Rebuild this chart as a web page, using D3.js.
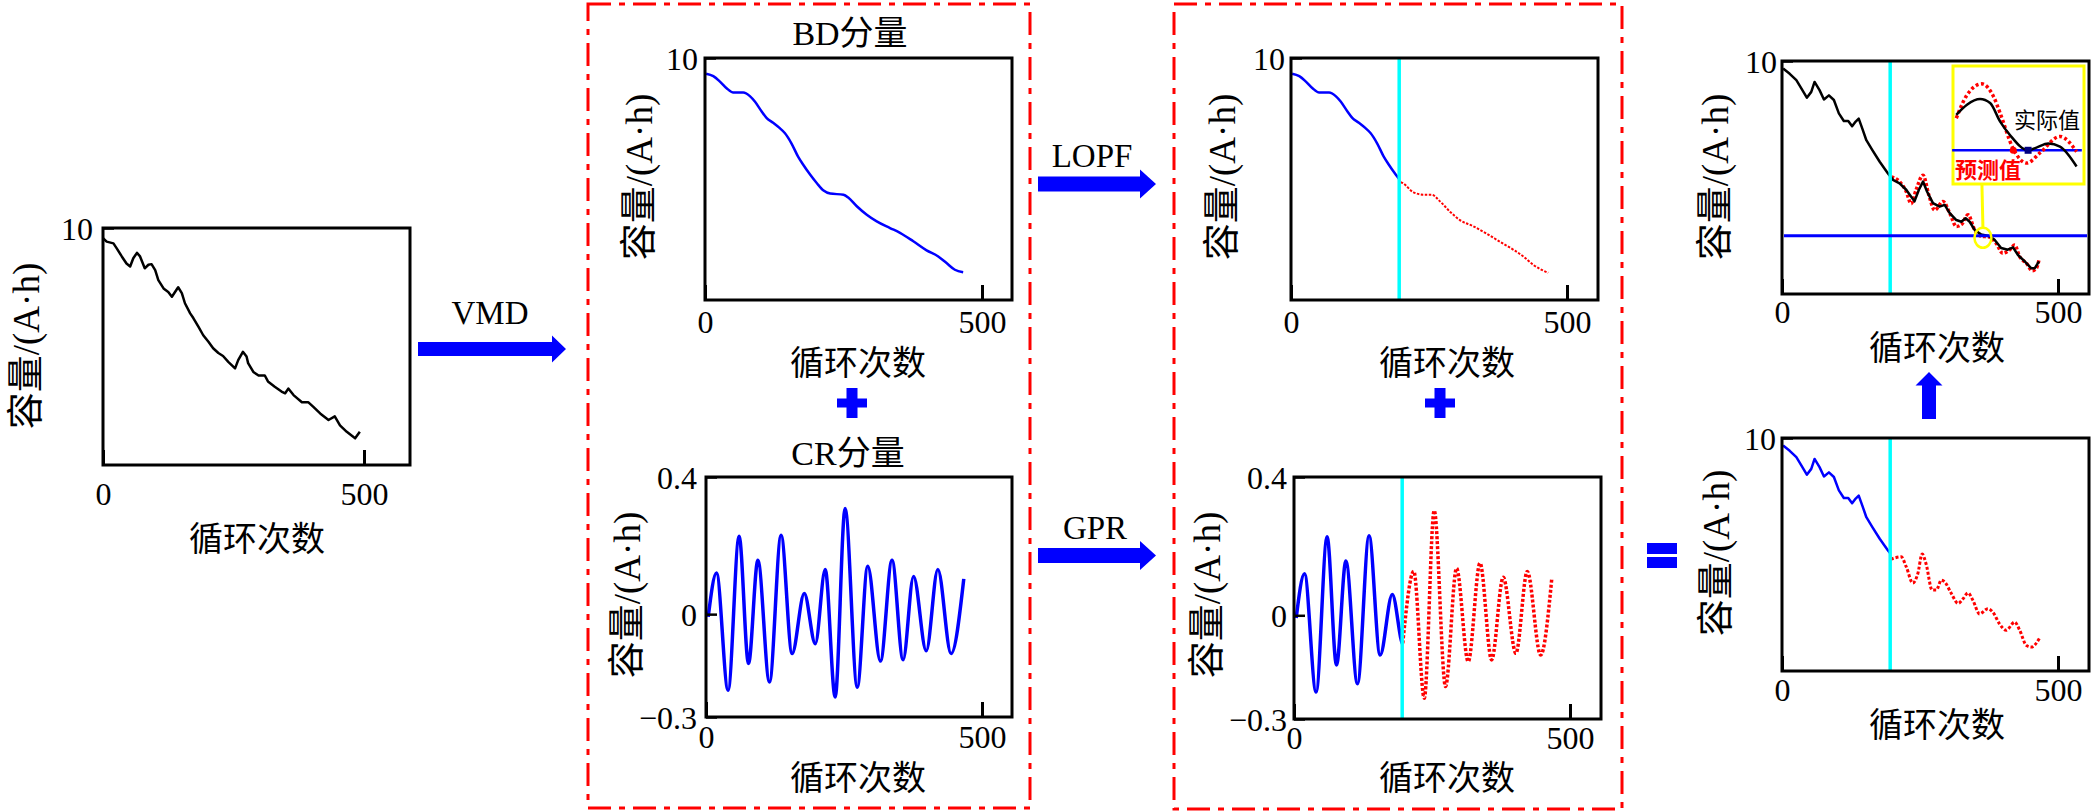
<!DOCTYPE html>
<html>
<head>
<meta charset="utf-8">
<script src="https://cdn.jsdelivr.net/npm/d3@7"></script>
<style>
body { margin: 0; background: #fff; }
</style>
</head>
<body>
<svg id="fig" width="2094" height="812"></svg>
<script>
// ---- data (cycle, capacity A·h) ----
var xTicks = [0, 500];
var splitCycle = 196;      // end of training data (cyan line)
var failThreshold = 7.0;   // blue horizontal line
var zoomCycle = 364;       // where the yellow circle sits

// original capacity curve (left panel)
var rawCapacity = [[0,9.83],[7,9.77],[20,9.74],[26,9.66],[36,9.52],[45,9.40],[52,9.35],[58,9.49],[65,9.58],[71,9.52],
  [80,9.32],[87,9.38],[93,9.39],[100,9.29],[106,9.12],[116,8.98],[125,8.92],[132,8.84],[138,8.92],[144,9.00],
  [151,8.90],[157,8.73],[167,8.56],[173,8.48],[183,8.33],[192,8.19],[202,8.08],[211,7.97],[221,7.89],[230,7.84],
  [240,7.74],[253,7.63],[259,7.77],[268,7.91],[275,7.83],[278,7.72],[288,7.57],[298,7.51],[310,7.51],[316,7.41],
  [329,7.32],[342,7.24],[349,7.21],[355,7.29],[365,7.18],[381,7.06],[393,7.06],[403,6.98],[416,6.87],[432,6.76],
  [444,6.82],[454,6.67],[467,6.56],[483,6.45],[492,6.56]];

// BD (trend) component
var bdTrend = [[2,9.74],[15,9.70],[27,9.61],[39,9.50],[51,9.43],[69,9.43],[81,9.37],[90,9.28],[102,9.12],[111,9.01],
  [123,8.93],[135,8.84],[144,8.76],[156,8.59],[168,8.37],[177,8.24],[190,8.07],[202,7.93],[214,7.81],[226,7.76],
  [250,7.74],[259,7.69],[274,7.55],[292,7.41],[310,7.30],[334,7.19],[352,7.11],[376,6.97],[400,6.82],[421,6.72],
  [436,6.61],[451,6.50],[466,6.46]];

// CR (fluctuation) component, peaks and troughs
var crComponent = [[4,-0.008],[19,0.12],[40,-0.222],[60,0.227],[77,-0.144],[94,0.157],[115,-0.198],[136,0.23],
  [156,-0.115],[178,0.06],[198,-0.086],[216,0.13],[234,-0.242],[252,0.308],[274,-0.213],[293,0.14],[316,-0.137],
  [337,0.157],[357,-0.133],[376,0.11],[399,-0.107],[420,0.13],[444,-0.115],[467,0.103]];

// LOPF prediction of the trend
var lopfPred = [[199,7.95],[203,7.93],[222,7.78],[240,7.74],[255,7.74],[270,7.63],[288,7.46],[306,7.32],[330,7.22],
  [354,7.10],[379,6.96],[403,6.83],[421,6.72],[439,6.58],[466,6.45]];

// GPR prediction of the fluctuation
var gprPred = [[197,-0.081],[217,0.127],[236,-0.24],[254,0.303],[274.5,-0.206],[294.5,0.136],[315.6,-0.134],
  [337,0.151],[358,-0.129],[379,0.11],[402,-0.11],[422.6,0.127],[446.8,-0.115],[466.8,0.103]];

// final result: actual capacity
var finalActual = [[2,9.87],[14,9.78],[26,9.67],[35,9.53],[45,9.37],[53,9.47],[59,9.64],[68,9.50],[76,9.34],[85,9.41],
  [94,9.33],[103,9.10],[112,8.97],[120,8.97],[127,8.88],[133.5,8.96],[139,9.01],[145.5,8.84],[152.8,8.64],[163.7,8.47],
  [177,8.27],[192,8.07],[201,7.96],[213,7.90],[225,7.79],[240,7.59],[248,7.79],[255.5,7.93],[262.7,7.76],[273.5,7.56],
  [285.6,7.50],[294.7,7.53],[303.8,7.39],[315.8,7.27],[324.9,7.24],[332.7,7.30],[340,7.24],[349,7.10],[361,7.02],
  [376,6.99],[385,6.93],[397,6.79],[409,6.76],[418.5,6.80],[427.5,6.67],[439.7,6.56],[451.7,6.44],[457.7,6.44],[465.6,6.56]];

// final result: predicted capacity (top panel)
var finalPred = [[198,8.01],[213,7.93],[225,7.76],[234,7.55],[243,7.79],[255.5,8.04],[266,7.70],[276.6,7.44],
  [291.7,7.59],[303.8,7.39],[315.8,7.16],[324.9,7.19],[337,7.36],[349,7.10],[361,6.99],[376,6.98],[388,6.87],
  [400,6.70],[412.5,6.76],[421.5,6.84],[430.6,6.64],[442.6,6.53],[453.5,6.40],[460.8,6.44],[465.6,6.59]];

// LOPF + GPR sum (bottom right panel)
var sumPred = [[197,7.92],[216,7.96],[225,7.79],[237,7.51],[246,7.67],[254,8.01],[261,7.84],[272,7.39],[279.6,7.39],
  [288.6,7.56],[294.7,7.53],[306.8,7.33],[319,7.16],[328,7.24],[337,7.34],[346,7.21],[358,6.98],[373,7.07],[382,7.01],
  [394,6.81],[406,6.70],[421.5,6.84],[430.6,6.70],[442.6,6.44],[451.7,6.41],[466.8,6.57]];

// zoomed inset near the failure threshold
var insetActual = [[365.75,7.105],[368.2,7.135],[371.2,7.152],[373.5,7.14],[375.8,7.085],[378,7.046],[382.2,7.0],
  [384.1,7.008],[386.8,7.02],[389.5,7.011],[393.3,6.952]];
var insetPred = [[365.75,7.095],[368.2,7.164],[371.6,7.197],[374.3,7.159],[375.8,7.11],[378.8,7.004],[381.9,6.962],
  [384.9,6.992],[389.5,7.041],[393.3,6.996]];
var crossPred = [378.8, 7.0];
var crossActual = [382.2, 7.0];

// ---- layout ----
var FONT = '"Liberation Serif","Times New Roman","Noto Sans CJK SC",serif';
var BLUE = "#0000ff", RED = "#ff0000", CYAN = "#00ffff", YELLOW = "#ffff00";
var YLABEL = "容量/(A·h)", XLABEL = "循环次数";

var panels = {
  raw:  {L:103,  T:228, R:410,  B:465, x500:364,  yDom:[6,10],      yTicks:[10],        yPad:10, xLabY:29, xTitle:[257,538],  yTitle:[26,346]},
  bd:   {L:705,  T:58,  R:1012, B:300, x500:982,  yDom:[6,10],      yTicks:[10],        yPad:7,  xLabY:22, xTitle:[858,362],  yTitle:[639,177], title:["BD分量",850,33]},
  cr:   {L:706,  T:477, R:1012, B:717, x500:982,  yDom:[-0.3,0.4],  yTicks:[-0.3,0,0.4],yPad:9,  xLabY:20, xTitle:[858,777],  yTitle:[627,595], title:["CR分量",848,453]},
  lopf: {L:1291, T:58,  R:1598, B:300, x500:1567, yDom:[6,10],      yTicks:[10],        yPad:6,  xLabY:22, xTitle:[1447,362], yTitle:[1222,177]},
  gpr:  {L:1294, T:477, R:1601, B:719, x500:1570, yDom:[-0.3,0.4],  yTicks:[-0.3,0,0.4],yPad:7,  xLabY:19, xTitle:[1447,777], yTitle:[1207,595]},
  top:  {L:1782, T:61,  R:2089, B:294, x500:2058, yDom:[6,10],      yTicks:[10],        yPad:5,  xLabY:18, xTitle:[1937,347], yTitle:[1715,177]},
  bot:  {L:1782, T:438, R:2089, B:671, x500:2058, yDom:[6,10],      yTicks:[10],        yPad:6,  xLabY:19, xTitle:[1937,724], yTitle:[1716,553]}
};

var svg = d3.select("#fig").attr("font-family", FONT);
var defs = svg.append("defs");
var fmt = d3.format("~g");

// red dash-dot group frames
[[588,4,1030,808],[1174,4,1622,809]].forEach(function(r) {
  svg.append("rect").attr("x", r[0]).attr("y", r[1]).attr("width", r[2]-r[0]).attr("height", r[3]-r[1])
    .attr("fill", "none").attr("stroke", RED).attr("stroke-width", 3).attr("stroke-dasharray", "23,8,6,8");
});

function setupPanel(key) {
  var p = panels[key];
  p.key = key;
  p.x = d3.scaleLinear().domain([0, 500]).range([p.L, p.x500]);
  p.y = d3.scaleLinear().domain(p.yDom).range([p.B, p.T]);
  p.g = svg.append("g");
  defs.append("clipPath").attr("id", "hist-" + key).append("rect")
    .attr("x", p.L).attr("y", p.T).attr("width", p.x(splitCycle) - p.L).attr("height", p.B - p.T);
  return p;
}

function finishPanel(p) {
  var ax = p.g.append("g").attr("transform", "translate(0," + p.B + ")")
    .call(d3.axisBottom(p.x).tickValues(xTicks).tickSizeInner(-15).tickSizeOuter(0).tickPadding(0).tickFormat(fmt));
  ax.select(".domain").remove();
  ax.selectAll(".tick line").attr("stroke", "#000").attr("stroke-width", 3);
  ax.selectAll(".tick text").attr("y", p.xLabY).attr("dy", "0.35em")
    .attr("font-size", 32).attr("font-family", FONT).attr("fill", "#000");

  var ay = p.g.append("g").attr("transform", "translate(" + p.L + ",0)")
    .call(d3.axisLeft(p.y).tickValues(p.yTicks).tickSizeInner(-11).tickSizeOuter(0).tickPadding(p.yPad).tickFormat(fmt));
  ay.select(".domain").remove();
  ay.selectAll(".tick line").attr("stroke", "#000").attr("stroke-width", 2.5);
  ay.selectAll(".tick text").attr("dy", "0.35em")
    .attr("font-size", 32).attr("font-family", FONT).attr("fill", "#000");

  p.g.append("rect").attr("x", p.L).attr("y", p.T).attr("width", p.R - p.L).attr("height", p.B - p.T)
    .attr("fill", "none").attr("stroke", "#000").attr("stroke-width", 3);

  p.g.append("text").attr("x", p.xTitle[0]).attr("y", p.xTitle[1]).attr("dy", "0.38em")
    .attr("text-anchor", "middle").attr("font-size", 34).text(XLABEL);
  p.g.append("text").attr("transform", "translate(" + p.yTitle[0] + "," + p.yTitle[1] + ") rotate(-90)")
    .attr("dy", "0.36em").attr("text-anchor", "middle").attr("font-size", 37).text(YLABEL);
  if (p.title) {
    p.g.append("text").attr("x", p.title[1]).attr("y", p.title[2]).attr("dy", "0.36em")
      .attr("text-anchor", "middle").attr("font-size", 34).text(p.title[0]);
  }
}

function drawLine(p, data, color, width, opts) {
  opts = opts || {};
  var line = d3.line().x(function(d) { return p.x(d[0]); }).y(function(d) { return p.y(d[1]); })
    .curve(opts.curve || d3.curveLinear);
  var path = p.g.append("path").attr("d", line(data)).attr("fill", "none")
    .attr("stroke", color).attr("stroke-width", width)
    .attr("stroke-linejoin", "round");
  if (opts.dash) path.attr("stroke-dasharray", opts.dash);
  if (opts.clip) path.attr("clip-path", "url(#hist-" + p.key + ")");
  return path;
}

function cyanLine(p) {
  p.g.append("line").attr("x1", p.x(splitCycle)).attr("x2", p.x(splitCycle))
    .attr("y1", p.T).attr("y2", p.B).attr("stroke", CYAN).attr("stroke-width", 3.5);
}

// ---- panels ----
var pRaw = setupPanel("raw");
drawLine(pRaw, rawCapacity, "#000", 2.5);
finishPanel(pRaw);

var pBd = setupPanel("bd");
drawLine(pBd, bdTrend, BLUE, 2.5, {curve: d3.curveMonotoneX});
finishPanel(pBd);

var pCr = setupPanel("cr");
drawLine(pCr, crComponent, BLUE, 3.5, {curve: d3.curveMonotoneX});
finishPanel(pCr);

var pLopf = setupPanel("lopf");
drawLine(pLopf, bdTrend, BLUE, 2.5, {curve: d3.curveMonotoneX, clip: true});
drawLine(pLopf, lopfPred, RED, 2, {curve: d3.curveMonotoneX, dash: "2.5,1.5"});
cyanLine(pLopf);
finishPanel(pLopf);

var pGpr = setupPanel("gpr");
drawLine(pGpr, crComponent, BLUE, 3.5, {curve: d3.curveMonotoneX, clip: true});
drawLine(pGpr, gprPred, RED, 3.5, {curve: d3.curveMonotoneX, dash: "3,2"});
cyanLine(pGpr);
finishPanel(pGpr);

var pTop = setupPanel("top");
drawLine(pTop, finalPred, RED, 3.5, {curve: d3.curveMonotoneX, dash: "3,2"});
drawLine(pTop, finalActual, "#000", 2.5);
cyanLine(pTop);
pTop.g.append("line").attr("x1", pTop.L + 2).attr("x2", pTop.R - 2)
  .attr("y1", pTop.y(failThreshold)).attr("y2", pTop.y(failThreshold))
  .attr("stroke", BLUE).attr("stroke-width", 3);
finishPanel(pTop);

var pBot = setupPanel("bot");
drawLine(pBot, finalActual, BLUE, 2.5, {clip: true});
drawLine(pBot, sumPred, RED, 3, {curve: d3.curveMonotoneX, dash: "3,2"});
cyanLine(pBot);
finishPanel(pBot);

// ---- inset (zoom near failure threshold) ----
var inset = {L:1953, T:66, R:2084, B:184};
var ix = d3.scaleLinear().domain([365, 395]).range([inset.L, inset.R]);
var iy = d3.scaleLinear().domain([6.9, 7.25]).range([inset.B, inset.T]);
var circX = pTop.x(zoomCycle), circY = pTop.y(failThreshold) + 2;

svg.append("line").attr("x1", circX - 1).attr("x2", circX).attr("y1", inset.B).attr("y2", circY - 10)
  .attr("stroke", YELLOW).attr("stroke-width", 3);
svg.append("ellipse").attr("cx", circX).attr("cy", circY).attr("rx", 8.5).attr("ry", 10)
  .attr("fill", "none").attr("stroke", YELLOW).attr("stroke-width", 2.5);

var gi = svg.append("g");
gi.append("rect").attr("x", inset.L).attr("y", inset.T).attr("width", inset.R - inset.L).attr("height", inset.B - inset.T)
  .attr("fill", "#fff").attr("stroke", YELLOW).attr("stroke-width", 3);
gi.append("line").attr("x1", ix(364.8)).attr("x2", ix(394.5)).attr("y1", iy(failThreshold)).attr("y2", iy(failThreshold))
  .attr("stroke", BLUE).attr("stroke-width", 2.5);
var iline = d3.line().x(function(d) { return ix(d[0]); }).y(function(d) { return iy(d[1]); }).curve(d3.curveMonotoneX);
gi.append("path").attr("d", iline(insetPred)).attr("fill", "none").attr("stroke", RED)
  .attr("stroke-width", 3.5).attr("stroke-dasharray", "3,2.5");
gi.append("path").attr("d", iline(insetActual)).attr("fill", "none").attr("stroke", "#000").attr("stroke-width", 2.5);
gi.append("circle").attr("cx", ix(crossPred[0])).attr("cy", iy(crossPred[1])).attr("r", 3.5).attr("fill", RED);
gi.append("rect").attr("x", ix(crossActual[0]) - 3.5).attr("y", iy(crossActual[1]) - 3.5)
  .attr("width", 7).attr("height", 7).attr("fill", "#000080");
gi.append("text").attr("x", 2047).attr("y", 120).attr("dy", "0.38em").attr("text-anchor", "middle")
  .attr("font-size", 22).text("实际值");
gi.append("text").attr("x", 1988).attr("y", 170).attr("dy", "0.38em").attr("text-anchor", "middle")
  .attr("font-size", 22).attr("font-weight", "bold").attr("fill", RED).text("预测值");

// ---- arrows and operators ----
function arrowRight(x0, x1, cy, half, headLen, headHalf) {
  var xh = x1 - headLen;
  return [[x0,cy-half],[xh,cy-half],[xh,cy-headHalf],[x1,cy],[xh,cy+headHalf],[xh,cy+half],[x0,cy+half]];
}
function arrowUp(cx, y0, y1, half, headLen, headHalf) {
  var yh = y1 + headLen;
  return [[cx-half,y0],[cx-half,yh],[cx-headHalf,yh],[cx,y1],[cx+headHalf,yh],[cx+half,yh],[cx+half,y0]];
}
var arrows = [
  arrowRight(418, 566, 349, 7, 14, 13.5),
  arrowRight(1038, 1156, 184, 7.5, 16, 14.5),
  arrowRight(1038, 1156, 555.5, 7.5, 16, 14.5),
  arrowUp(1929, 419, 372, 7, 13.5, 13.5)
];
arrows.forEach(function(pts) {
  svg.append("polygon").attr("points", pts.map(function(d) { return d.join(","); }).join(" ")).attr("fill", BLUE);
});

[["VMD",490,312],["LOPF",1092,155],["GPR",1095,527]].forEach(function(t) {
  svg.append("text").attr("x", t[1]).attr("y", t[2]).attr("dy", "0.35em").attr("text-anchor", "middle")
    .attr("font-size", 33).text(t[0]);
});

// plus signs
[[852,403],[1440,403]].forEach(function(c) {
  svg.append("rect").attr("x", c[0]-15).attr("y", c[1]-4.5).attr("width", 30).attr("height", 9).attr("fill", BLUE);
  svg.append("rect").attr("x", c[0]-5.5).attr("y", c[1]-15).attr("width", 11).attr("height", 30).attr("fill", BLUE);
});
// equals sign
svg.append("rect").attr("x", 1647).attr("y", 543).attr("width", 30).attr("height", 11).attr("fill", BLUE);
svg.append("rect").attr("x", 1647).attr("y", 557).attr("width", 30).attr("height", 11).attr("fill", BLUE);
</script>
</body>
</html>
